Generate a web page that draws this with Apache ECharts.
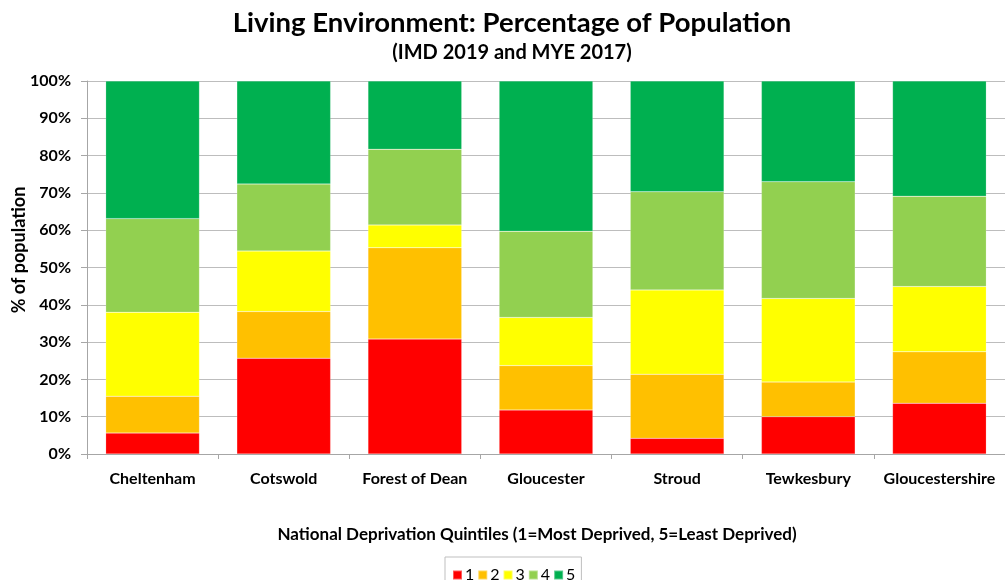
<!DOCTYPE html>
<html>
<head>
<meta charset="utf-8">
<script src="https://cdn.jsdelivr.net/npm/echarts@6/dist/echarts.min.js"></script>
<style>
  html, body { margin: 0; padding: 0; background: #fff; }
  #main { width: 1005px; height: 580px; }
</style>
</head>
<body>
<div id="main"></div>
<script>
// districts
var categories = ['Cheltenham', 'Cotswold', 'Forest of Dean', 'Gloucester', 'Stroud', 'Tewkesbury', 'Gloucestershire'];
// % of population in each national deprivation quintile
var q1 = [5.6, 25.7, 30.8, 11.8, 4.2, 10.0, 13.6];
var q2 = [9.9, 12.5, 24.5, 11.9, 17.2, 9.3, 13.8];
var q3 = [22.5, 16.2, 6.1, 12.9, 22.6, 22.4, 17.5];
var q4 = [25.1, 18.0, 20.3, 23.1, 26.3, 31.3, 24.2];
var q5 = [36.9, 27.6, 18.3, 40.3, 29.7, 27.0, 30.9];
var quintileNames = ['1', '2', '3', '4', '5'];
var colors = ['#FF0000', '#FFC000', '#FFFF00', '#92D050', '#00B050'];

var font = 'Lato, "Open Sans", sans-serif';
var myChart = echarts.init(document.getElementById('main'));

var values = [q1, q2, q3, q4, q5];
var series = values.map(function (d, i) {
  return {
    name: quintileNames[i],
    type: 'bar',
    stack: 'total',
    barCategoryGap: '28.5%',
    data: d,
    itemStyle: { color: colors[i], borderColor: 'rgba(255,255,255,0.35)', borderWidth: 0.5 }
  };
});

var option = {
  animation: false,
  textStyle: { fontFamily: font },
  title: [
    {
      text: 'Living Environment: Percentage of Population',
      left: 512, top: 9, padding: 0, textAlign: 'center',
      textStyle: { fontFamily: font, fontSize: 27.5, fontWeight: 'bold', color: '#000' }
    },
    {
      text: '(IMD 2019 and MYE 2017)',
      left: 512, top: 43, padding: 0, textAlign: 'center',
      textStyle: { fontFamily: font, fontSize: 20, fontWeight: 'bold', color: '#000' }
    }
  ],
  graphic: [
    {
      type: 'text', x: 537, y: 535,
      style: {
        text: 'National Deprivation Quintiles (1=Most Deprived, 5=Least Deprived)',
        font: 'bold 17px ' + font, fill: '#000', align: 'center', verticalAlign: 'middle'
      }
    },
    {
      type: 'text', x: 19, y: 250, rotation: Math.PI / 2,
      style: {
        text: '% of population',
        font: 'bold 18px ' + font, fill: '#000', align: 'center', verticalAlign: 'middle'
      }
    }
  ],
  legend: {
    data: quintileNames,
    left: 445, top: 557,
    padding: [10, 6, 10, 7],
    itemWidth: 9, itemHeight: 9, itemGap: 3,
    borderColor: '#bfbfbf', borderWidth: 1,
    icon: 'rect',
    textStyle: { fontFamily: font, fontSize: 16, color: '#000', padding: [0, 0, 0, -2] }
  },
  grid: { left: 87, top: 81, width: 920, height: 373, containLabel: false },
  xAxis: {
    type: 'category',
    data: categories,
    axisLine: { lineStyle: { color: '#a6a6a6' } },
    axisTick: { show: true, length: 5, lineStyle: { color: '#a6a6a6' } },
    axisLabel: { interval: 0, margin: 17, fontFamily: font, fontSize: 16, fontWeight: 'bold', color: '#000' }
  },
  yAxis: {
    type: 'value',
    min: 0, max: 100, interval: 10,
    axisLine: { show: true, lineStyle: { color: '#a6a6a6' } },
    axisTick: { show: true, length: 6, lineStyle: { color: '#a6a6a6' } },
    splitLine: { lineStyle: { color: '#bdbdbd' } },
    axisLabel: { formatter: '{value}%', margin: 16, fontFamily: font, fontSize: 16, fontWeight: 'bold', color: '#000' }
  },
  series: series
};
myChart.setOption(option);
</script>
</body>
</html>
